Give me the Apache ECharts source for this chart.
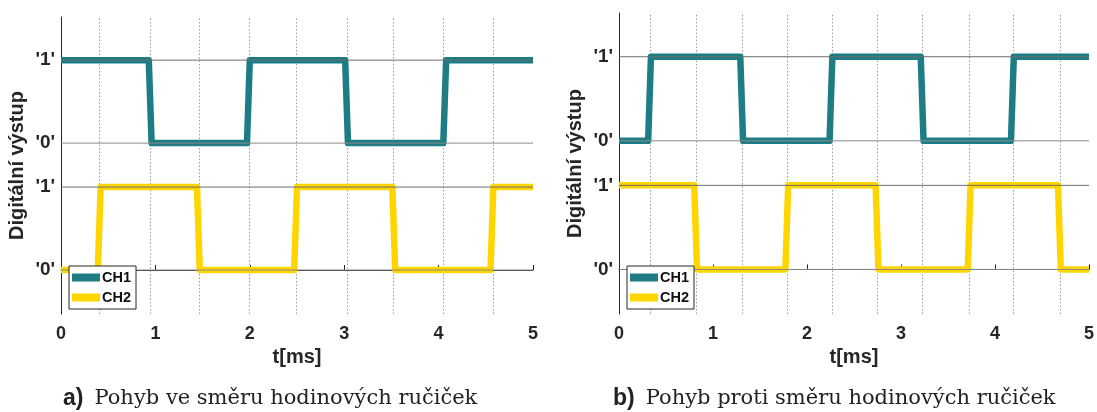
<!DOCTYPE html>
<html>
<head>
<meta charset="utf-8">
<script src="https://cdn.jsdelivr.net/npm/echarts@6/dist/echarts.min.js"></script>
<style>
  html, body { margin: 0; padding: 0; background: #fff; }
  #myChart { width: 1097px; height: 412px; }
</style>
</head>
<body>
<div id="myChart"></div>
<script>
// levels on the y axis: CH2 low/high, CH1 low/high (CH1 is shifted up)
const yLevels = [0, 1, 1.53, 2.53];
const yTickLabels = ["'0'", "'1'", "'0'", "'1'"];
const ch1Offset = 1.53;

// a) clockwise
const ch1A = [[0, 1], [0.93, 1], [0.96, 0], [1.97, 0], [2.0, 1], [3.01, 1], [3.04, 0], [4.05, 0], [4.08, 1], [5, 1]];
const ch2A = [[0, 0], [0.39, 0], [0.42, 1], [1.44, 1], [1.47, 0], [2.47, 0], [2.5, 1], [3.51, 1], [3.54, 0], [4.55, 0], [4.58, 1], [5, 1]];
const edgesA = [0.41, 0.95, 1.46, 1.99, 2.49, 3.03, 3.52, 4.05, 4.58];

// b) counter-clockwise
const ch1B = [[0, 0], [0.31, 0], [0.34, 1], [1.29, 1], [1.32, 0], [2.24, 0], [2.27, 1], [3.21, 1], [3.24, 0], [4.17, 0], [4.2, 1], [5, 1]];
const ch2B = [[0, 1], [0.8, 1], [0.83, 0], [1.77, 0], [1.8, 1], [2.73, 1], [2.76, 0], [3.71, 0], [3.74, 1], [4.67, 1], [4.7, 0], [5, 0]];
const edgesB = [0.33, 0.82, 1.31, 1.79, 2.27, 2.75, 3.23, 3.73, 4.19, 4.69];

const xTicks = [0, 1, 2, 3, 4, 5];
const captions = [
  { tag: 'a)', text: 'Pohyb ve směru hodinových ručiček' },
  { tag: 'b)', text: 'Pohyb proti směru hodinových ručiček' }
];

const TEAL = '#1e7c84';
const GOLD = '#ffd500';
const sans = 'Liberation Sans, Arial, sans-serif';

const grids = [
  { left: 61, right: 564, top: 17, bottom: 98 },
  { left: 619, right: 5, top: 13, bottom: 98 }
];

function xAx(i) {
  return {
    type: 'value', gridIndex: i, min: 0, max: 5, interval: 1,
    name: 't[ms]', nameLocation: 'middle', nameGap: 31,
    nameTextStyle: { fontFamily: sans, fontWeight: 'bold', fontSize: 20, color: '#262626' },
    axisLine: { lineStyle: { color: '#262626', width: 1 } },
    axisTick: { inside: true, length: 5, lineStyle: { color: '#262626' } },
    axisLabel: { margin: 11, fontFamily: sans, fontWeight: 'bold', fontSize: 18, color: '#262626',
      formatter: v => xTicks.includes(v) ? String(v) : '' },
    splitLine: { show: false }
  };
}

function yAx(i) {
  return {
    type: 'value', gridIndex: i, min: -0.53, max: 3.05,
    name: 'Digitální výstup', nameLocation: 'middle', nameGap: 34,
    nameTextStyle: { fontFamily: sans, fontWeight: 'bold', fontSize: 20, color: '#262626' },
    axisLine: { show: true, lineStyle: { color: '#262626', width: 1 } },
    axisTick: { show: false },
    axisLabel: { customValues: yLevels, margin: 6, fontFamily: sans, fontWeight: 'bold', fontSize: 19, color: '#262626',
      formatter: v => { const k = yLevels.indexOf(v); return k >= 0 ? yTickLabels[k] : ''; } },
    splitLine: { show: false }
  };
}

function shift(data, off) {
  return data.map(p => [p[0], p[1] + off]);
}

function plotSeries(i, ch1, ch2, edges) {
  const list = [];
  list.push({
    name: 'CH1', type: 'line', xAxisIndex: i, yAxisIndex: i, data: shift(ch1, ch1Offset),
    showSymbol: false, symbol: 'none', lineStyle: { color: TEAL, width: 6.5, join: 'round' },
    itemStyle: { color: TEAL }, z: 3,
    markLine: {
      silent: true, symbol: 'none', label: { show: false },
      lineStyle: { color: '#9a9a9a', type: [1.5, 2], width: 1 },
      data: edges.map(x => ({ xAxis: x })), z: 1
    }
  });
  list.push({
    name: 'CH2', type: 'line', xAxisIndex: i, yAxisIndex: i, data: ch2,
    showSymbol: false, symbol: 'none', lineStyle: { color: GOLD, width: 6.5, join: 'round' },
    itemStyle: { color: GOLD }, z: 3
  });
  // horizontal reference lines at every level, on top of the signals
  yLevels.forEach((lv, k) => {
    list.push({
      type: 'line', xAxisIndex: i, yAxisIndex: i, silent: true, data: [[0, lv], [5, lv]],
      showSymbol: false, symbol: 'none', z: 4,
      lineStyle: { color: k % 2 ? '#6e6e6e' : '#8a8a8a', width: 1 }
    });
  });
  return list;
}

const legendBase = {
  orient: 'vertical', data: ['CH1', 'CH2'], icon: 'rect', itemWidth: 28, itemHeight: 8, itemGap: 5,
  padding: [4, 5, 4, 3], borderColor: '#262626', borderWidth: 1, backgroundColor: '#fff',
  textStyle: { fontFamily: sans, fontWeight: 'bold', fontSize: 14.5, color: '#111', padding: [0, 0, 0, -3] },
  selectedMode: false, z: 10
};

const option = {
  animation: false,
  backgroundColor: '#fff',
  grid: grids,
  xAxis: [xAx(0), xAx(1)],
  yAxis: [yAx(0), yAx(1)],
  legend: [
    Object.assign({}, legendBase, { left: 69, top: 266 }),
    Object.assign({}, legendBase, { left: 627, top: 266 })
  ],
  graphic: captions.map((c, i) => ({
    type: 'text', left: i === 0 ? 63 : 613, top: 387,
    style: {
      text: '{t|' + c.tag + '}{n|' + c.text + '}',
      rich: {
        t: { fontFamily: sans, fontWeight: 'bold', fontSize: 23, fill: '#222', padding: [0, 11, 0, 0] },
        n: { fontFamily: 'DejaVu Serif, serif', fontSize: 21, fill: '#222' }
      }
    }
  })),
  series: [].concat(plotSeries(0, ch1A, ch2A, edgesA), plotSeries(1, ch1B, ch2B, edgesB))
};

const chart = echarts.init(document.getElementById('myChart'));
chart.setOption(option);
</script>
</body>
</html>
